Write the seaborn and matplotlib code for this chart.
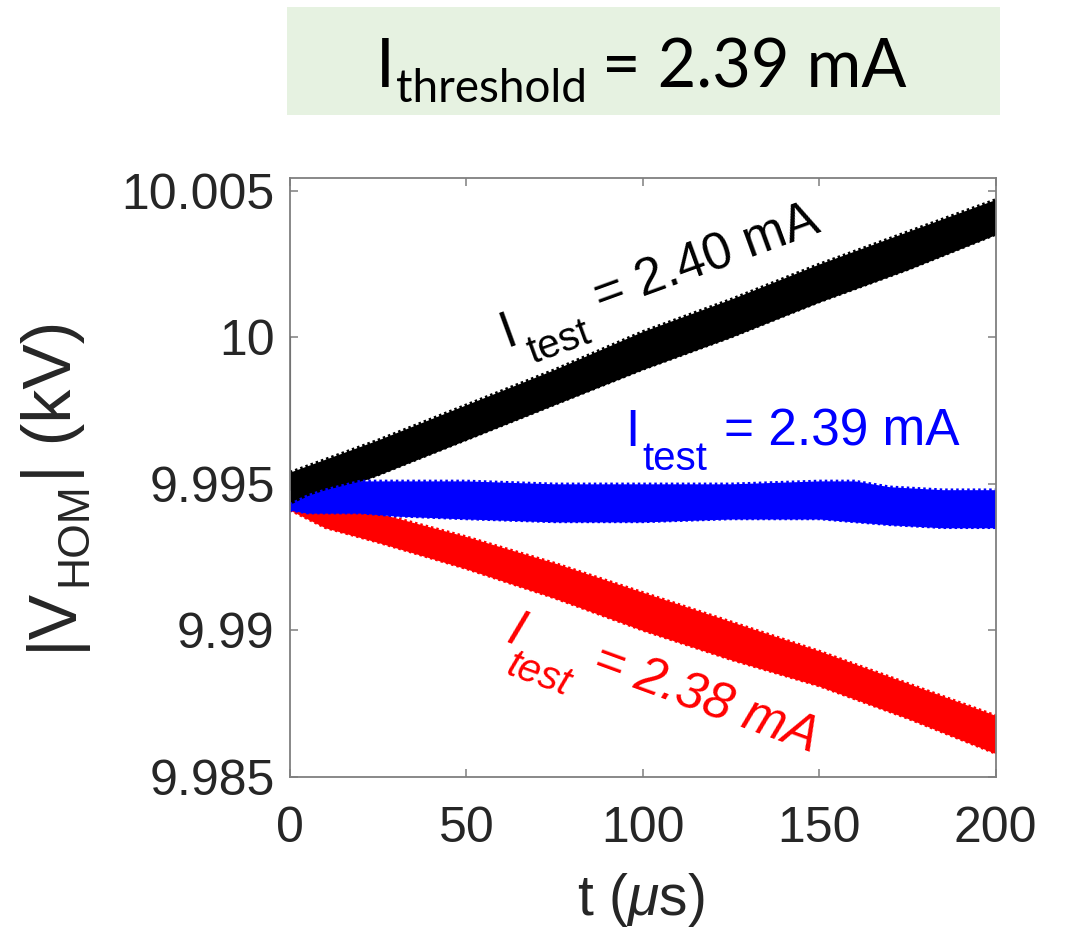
import numpy as np
import pandas as pd
import matplotlib
matplotlib.use("Agg")
import matplotlib.pyplot as plt
from matplotlib.patches import Rectangle
from matplotlib.transforms import ScaledTranslation
import seaborn as sns

# ---------------- data ----------------
t_black = [0, 25, 50, 75, 100, 125, 150, 175, 200]
black_hi = [9.9954, 9.9965, 9.9977, 9.9989, 10.0002, 10.0013, 10.0025, 10.0036, 10.0047]
black_lo = [9.9942, 9.9953, 9.9965, 9.9977, 9.9989, 10.0000, 10.0012, 10.0023, 10.0035]
spike_t = [0, 0]
spike_v = [10.0, 9.9948]

t_blue = [0, 5, 10, 20, 30, 50, 75, 100, 125, 150, 160, 170, 185, 200]
blue_hi = [9.9943, 9.9946, 9.9948, 9.9951, 9.9951, 9.9951, 9.9950, 9.9950, 9.9950, 9.9951, 9.9951, 9.9949, 9.9948, 9.9948]
blue_lo = [9.9941, 9.9940, 9.9940, 9.9940, 9.9939, 9.9938, 9.9937, 9.9937, 9.9938, 9.9938, 9.9937, 9.9936, 9.9935, 9.9935]

t_red = [0, 10, 25, 50, 75, 100, 125, 150, 175, 200]
red_hi = [9.9942, 9.9941, 9.9940, 9.9932, 9.9923, 9.9913, 9.9903, 9.9893, 9.9882, 9.9871]
red_lo = [9.9941, 9.9935, 9.9930, 9.9921, 9.9911, 9.9900, 9.9890, 9.9881, 9.9870, 9.9858]

xticks = [0, 50, 100, 150, 200]
xtick_labels = ["0", "50", "100", "150", "200"]
yticks = [9.985, 9.99, 9.995, 10.0, 10.005]
ytick_labels = ["9.985", "9.99", "9.995", "10", "10.005"]

label_parts = {
    "black": ("I", "test", "= 2.40 mA"),
    "blue": ("I", "test", "= 2.39 mA"),
    "red": ("I", "test", "= 2.38 mA"),
}
title_parts = ("I", "threshold", "= 2.39 mA")
ylabel_parts = ("|V", "HOM", "| (kV)")
xlabel_text = r"t ($\mu$s)"

# ---------------- style ----------------
sns.set_theme(style="white")
plt.rcParams["font.family"] = ["Liberation Sans", "DejaVu Sans"]
plt.rcParams["mathtext.fontset"] = "custom"
plt.rcParams["mathtext.rm"] = "Liberation Sans"
plt.rcParams["mathtext.it"] = "Liberation Sans:italic"

DPI = 100
fig = plt.figure(figsize=(10.66, 9.32), dpi=DPI)
ax = fig.add_axes([0.272, 0.1663, 0.662, 0.643])


def rich_text(x, y, transform, parts, sizes, alongs, drops, rotation=0.0, **kw):
    """Draw base / subscript / rest pieces along a (rotated) baseline.
    alongs, drops in pixels."""
    th = np.deg2rad(rotation)
    for s, size, a, d in zip(parts, sizes, alongs, drops):
        ox = a * np.cos(th) + d * np.sin(th)
        oy = a * np.sin(th) - d * np.cos(th)
        tr = transform + ScaledTranslation(ox / DPI, oy / DPI, fig.dpi_scale_trans)
        fig.text(x, y, s, transform=tr, fontsize=size, rotation=rotation,
                 rotation_mode="anchor", ha="left", va="baseline", **kw)


series = [
    ("black", t_black, black_lo, black_hi, "#000000"),
    ("red", t_red, red_lo, red_hi, "#FF0000"),
    ("blue", t_blue, blue_lo, blue_hi, "#0000FF"),
]

sns.lineplot(x=spike_t, y=spike_v, ax=ax, color="#000000", lw=1.5, estimator=None, sort=False)
for name, t, lo, hi, col in series:
    df = pd.DataFrame({"t": t, "lo": lo, "hi": hi})
    ax.fill_between(df["t"], df["lo"], df["hi"], color=col, lw=0, zorder=2)
    sns.lineplot(data=df, x="t", y="hi", ax=ax, color=col, lw=1.8, dashes=(1, 1.2), zorder=2)
    sns.lineplot(data=df, x="t", y="lo", ax=ax, color=col, lw=1.8, dashes=(1, 1.2), zorder=2)

ax.set_xlim(0, 200)
ax.set_ylim(9.985, 10.00544)
ax.set_xticks(xticks)
ax.set_xticklabels(xtick_labels)
ax.set_yticks(yticks)
ax.set_yticklabels(ytick_labels)
ax.set_xlabel("")
ax.set_ylabel("")

for s in ax.spines.values():
    s.set_visible(True)
    s.set_color("#7f7f7f")
    s.set_linewidth(1.3)
ax.tick_params(axis="both", which="both", direction="in", length=5.5, width=1.1,
               color="#7f7f7f", labelcolor="#262626", labelsize=36,
               top=True, right=True, bottom=True, left=True)
ax.tick_params(axis="x", pad=21)
ax.tick_params(axis="y", pad=11)

# x label (baseline placed in axes coords)
ax.set_xlabel(xlabel_text, fontsize=41, color="#262626")
ax.xaxis.label.set_va("baseline")
ax.xaxis.set_label_coords(0.497, -0.2303)

# y label built from pieces (rotated 90 deg)
rich_text(71 / 1066, (932 - 650) / 932, fig.transFigure, ylabel_parts,
          sizes=(49, 32, 49), alongs=(0, 64, 168), drops=(0, 15, 0), rotation=90,
          color="#262626")

# annotations (anchor = start of baseline, in data coordinates)
rich_text(61.2, 9.99965, ax.transData, label_parts["black"], sizes=(37, 29, 37),
          alongs=(0, 19, 101), drops=(0, 24, 0), rotation=20, color="#000000")
rich_text(95.0, 9.99630, ax.transData, label_parts["blue"], sizes=(37, 29, 37),
          alongs=(0, 17, 99), drops=(0, 24, 0), rotation=0, color="#0000FF")
rich_text(60.8, 9.98962, ax.transData, label_parts["red"], sizes=(37, 29, 37),
          alongs=(0, 11, 91), drops=(0, 30, 0), rotation=-20, color="#FF0000",
          fontstyle="italic")

# title box
fig.patches.append(Rectangle((287 / 1066, 1 - 115 / 932), (1000 - 287) / 1066, 108 / 932,
                             transform=fig.transFigure, facecolor="#E6F2E1", edgecolor="none"))
rich_text(376 / 1066, (932 - 87) / 932, fig.transFigure, title_parts, sizes=(48, 33, 48),
          alongs=(0, 20, 226), drops=(0, 15, 0), rotation=0, color="#000000",
          family=["Lato", "DejaVu Sans"])

fig.savefig("out.png", dpi=DPI)
